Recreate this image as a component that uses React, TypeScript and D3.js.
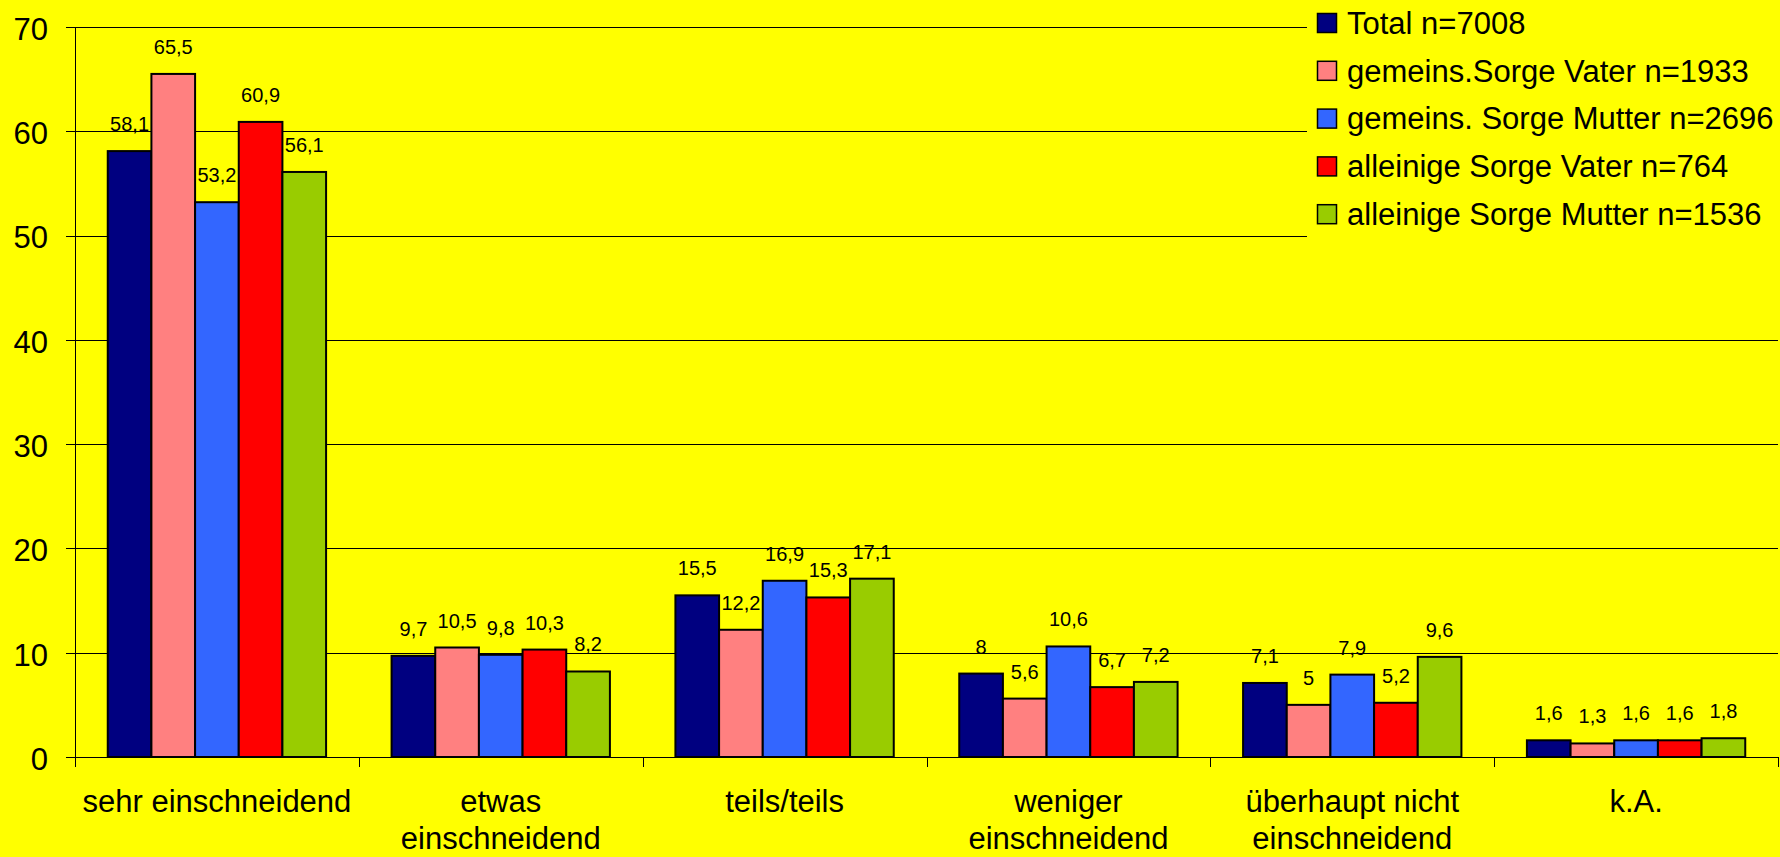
import React from "react";
import { scaleBand, scaleLinear } from "d3";

// Kategorien und Reihen
const categories = [
  ["sehr einschneidend"],
  ["etwas", "einschneidend"],
  ["teils/teils"],
  ["weniger", "einschneidend"],
  ["überhaupt nicht", "einschneidend"],
  ["k.A."],
];

const seriesNames = [
  "Total n=7008",
  "gemeins.Sorge Vater n=1933",
  "gemeins. Sorge Mutter n=2696",
  "alleinige Sorge Vater n=764",
  "alleinige Sorge Mutter n=1536",
];

const seriesColors = ["#000080", "#FF8080", "#3366FF", "#FF0000", "#99CC00"];

const total = [58.1, 9.7, 15.5, 8, 7.1, 1.6];
const gemVater = [65.5, 10.5, 12.2, 5.6, 5, 1.3];
const gemMutter = [53.2, 9.8, 16.9, 10.6, 7.9, 1.6];
const alleinVater = [60.9, 10.3, 15.3, 6.7, 5.2, 1.6];
const alleinMutter = [56.1, 8.2, 17.1, 7.2, 9.6, 1.8];

const yTicks = [0, 10, 20, 30, 40, 50, 60, 70];

const seriesValues = [total, gemVater, gemMutter, alleinVater, alleinMutter];

const W = 1780;
const H = 857;
const FONT = "Arial, 'Liberation Sans', sans-serif";

export default function App() {
  const catKeys = categories.map((c) => c.join(" "));
  const x0 = scaleBand().domain(catKeys).range([75, 1778]).padding(0);
  const bw = x0.bandwidth();
  // Excel: Abstandsbreite 150% -> Gruppe = 5 von 6.5 Balkenbreiten
  const x1 = scaleBand()
    .domain(seriesNames)
    .range([(bw * 0.75) / 6.5, (bw * 5.75) / 6.5])
    .padding(0);
  const y = scaleLinear().domain([0, 70]).range([757, 27]);

  const fmt = (v: number) => String(v).replace(".", ",");

  return (
    <svg
      width={W}
      height={H}
      style={{ position: "absolute", left: 0, top: 0, display: "block" }}
      fontFamily={FONT}
    >
      <rect x={0} y={0} width={W} height={H} fill="#FFFF00" />

      {/* Gitterlinien + Y-Achse */}
      {yTicks.map((t) => (
        <g key={t}>
          <line
            x1={66}
            x2={1778}
            y1={Math.round(y(t)) + 0.5}
            y2={Math.round(y(t)) + 0.5}
            stroke="#000"
            strokeWidth={1}
          />
          <text
            x={48}
            y={y(t) + 2}
            dy="0.35em"
            textAnchor="end"
            fontSize={31}
            fill="#000"
          >
            {t}
          </text>
        </g>
      ))}
      <line x1={75.5} x2={75.5} y1={y(70)} y2={767} stroke="#000" strokeWidth={1} />
      {[...catKeys.map((k) => x0(k)!), 1778].map((xv, i) => (
        <line
          key={i}
          x1={Math.round(xv) + 0.5}
          x2={Math.round(xv) + 0.5}
          y1={757}
          y2={767}
          stroke="#000"
          strokeWidth={1}
        />
      ))}

      {/* Balken */}
      {catKeys.map((k, ci) => (
        <g key={k} transform={`translate(${x0(k)},0)`}>
          {seriesNames.map((s, si) => {
            const v = seriesValues[si][ci];
            const bx = x1(s)!;
            return (
              <g key={s}>
                <rect
                  x={bx}
                  y={y(v)}
                  width={x1.bandwidth()}
                  height={y(0) - y(v)}
                  fill={seriesColors[si]}
                  stroke="#000"
                  strokeWidth={2}
                />
                <text
                  x={bx + x1.bandwidth() / 2}
                  y={y(v) - 20}
                  textAnchor="middle"
                  fontSize={20}
                  fill="#000"
                >
                  {fmt(v)}
                </text>
              </g>
            );
          })}
        </g>
      ))}

      {/* Kategorie-Beschriftung */}
      {categories.map((lines, ci) => (
        <text
          key={ci}
          x={x0(catKeys[ci])! + bw / 2}
          y={812}
          textAnchor="middle"
          fontSize={31}
          fill="#000"
        >
          {lines.map((l, li) => (
            <tspan key={li} x={x0(catKeys[ci])! + bw / 2} dy={li === 0 ? 0 : 37}>
              {l}
            </tspan>
          ))}
        </text>
      ))}

      {/* Legende */}
      <rect x={1307} y={0} width={W - 1307} height={237} fill="#FFFF00" />
      {seriesNames.map((s, i) => {
        const cy = 23 + i * 47.8;
        return (
          <g key={s}>
            <rect
              x={1317.5}
              y={cy - 9.5}
              width={19}
              height={19}
              fill={seriesColors[i]}
              stroke="#000"
              strokeWidth={1.5}
            />
            <text x={1347} y={cy} dy="0.35em" fontSize={31} fill="#000">
              {s}
            </text>
          </g>
        );
      })}
    </svg>
  );
}
